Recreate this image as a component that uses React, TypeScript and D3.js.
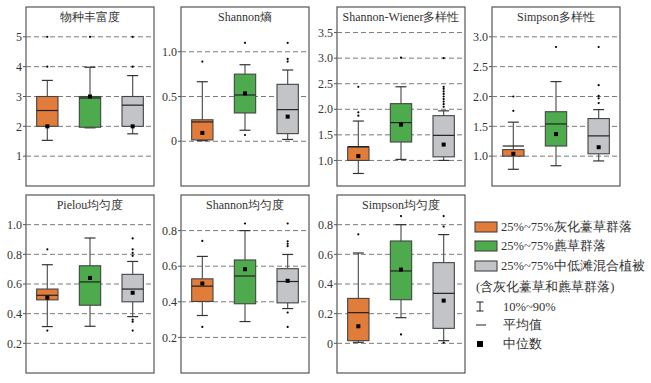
import React from 'react';
import * as d3 from 'd3';

const groups = ['灰化薹草群落', '藨草群落', '中低滩混合植被'];
const groupColors = ['#E27C3A', '#4DAB4E', '#C2C4C7'];

const panelTitles = ['物种丰富度', 'Shannon熵', 'Shannon-Wiener多样性', 'Simpson多样性', 'Pielou均匀度', 'Shannon均匀度', 'Simpson均匀度'];
const panelDomains: [number, number][] = [[0, 6], [-0.5, 1.5], [0.5, 4.0], [0.5, 3.5], [0, 1.2], [0, 1.0], [-0.2, 1.0]];
const panelTicks: number[][] = [
  [1, 2, 3, 4, 5],
  [0, 0.5, 1.0],
  [1.0, 1.5, 2.0, 2.5, 3.0, 3.5],
  [1.0, 1.5, 2.0, 2.5, 3.0],
  [0.2, 0.4, 0.6, 0.8, 1.0],
  [0.2, 0.4, 0.6, 0.8],
  [0, 0.2, 0.4, 0.6, 0.8],
];
const panelIntTicks = [true, false, false, false, false, false, false];

// each group: [p10, q1, q3, p90, lineValue(平均值), squareValue(中位数)]
const richness = [[1.53, 2, 3, 3.54, 2.53, 2.0], [1.95, 1.97, 3, 3.98, 2.95, 3.0], [1.75, 2, 3, 3.7, 2.71, 2.0]];
const richnessOut = [[4, 5], [5], [4, 5]];
const shannonH = [[0.007, 0.015, 0.24, 0.665, 0.216, 0.093], [0.123, 0.316, 0.75, 0.855, 0.517, 0.535], [0.02, 0.085, 0.636, 0.796, 0.353, 0.275]];
const shannonHOut = [[0.89], [1.1, 0.07], [1.1, 0.89, 0.92]];
const shannonW = [[0.745, 1.0, 1.26, 1.77, 1.27, 1.085], [1.02, 1.36, 2.11, 2.44, 1.74, 1.70], [1.0, 1.07, 1.875, 1.97, 1.49, 1.31]];
const shannonWOut = [[2.44, 1.94, 1.875], [3.01], [3.0, 2.44, 2.4, 2.35, 2.3, 2.25, 2.2, 2.15, 2.1, 2.05]];
const simpsonD = [[0.78, 1.0, 1.11, 1.57, 1.17, 1.04], [0.84, 1.17, 1.745, 2.25, 1.54, 1.37], [0.92, 1.04, 1.63, 1.78, 1.34, 1.15]];
const simpsonDOut = [[2.0, 1.76], [2.83], [2.83, 2.19, 2.01, 1.97, 1.89]];
const pielou = [[0.313, 0.493, 0.566, 0.73, 0.524, 0.508], [0.315, 0.457, 0.723, 0.91, 0.614, 0.641], [0.38, 0.48, 0.665, 0.752, 0.566, 0.541]];
const pielouOut = [[0.834, 0.286], [], [0.907, 0.834, 0.81, 0.79, 0.36, 0.346, 0.286]];
const shannonE = [[0.323, 0.402, 0.529, 0.655, 0.488, 0.503], [0.289, 0.389, 0.635, 0.8, 0.545, 0.583], [0.362, 0.394, 0.586, 0.666, 0.514, 0.518]];
const shannonEOut = [[0.742, 0.259], [0.84], [0.84, 0.74, 0.726, 0.713, 0.34, 0.259]];
const simpsonE = [[0.007, 0.018, 0.303, 0.609, 0.207, 0.115], [0.173, 0.294, 0.69, 0.8, 0.488, 0.497], [0.018, 0.101, 0.544, 0.733, 0.337, 0.288]];
const simpsonEOut = [[0.735], [0.858, 0.06], [0.858, 0.787, 0.005]];

const panelStats = [richness, shannonH, shannonW, simpsonD, pielou, shannonE, simpsonE];
const panelOutliers = [richnessOut, shannonHOut, shannonWOut, simpsonDOut, pielouOut, shannonEOut, simpsonEOut];

const legendLabels = ['25%~75%灰化薹草群落', '25%~75%藨草群落', '25%~75%中低滩混合植被'];
const legendNote = '(含灰化薹草和藨草群落)';
const legendWhisker = '10%~90%';
const legendMean = '平均值';
const legendMedian = '中位数';

const W = 651;
const H = 383;
const PW = 128;
const panelLefts = [26, 181, 337, 492, 26, 181, 337];
const rowTops = [7, 195];
const rowBottoms = [186, 373];
const FONT = 'Liberation Serif, DejaVu Serif Condensed, DejaVu Serif, serif';

function Panel({ idx }: { idx: number }) {
  const left = panelLefts[idx];
  const row = idx < 4 ? 0 : 1;
  const top = rowTops[row];
  const bottom = rowBottoms[row];
  const y = d3.scaleLinear().domain(panelDomains[idx]).range([bottom, top]);
  const x = d3.scaleBand<number>().domain([0, 1, 2]).range([left, left + PW]).paddingInner(0.5).paddingOuter(0.25);
  const bw = x.bandwidth();
  const fmt = (v: number) => (panelIntTicks[idx] ? String(v) : v === 0 ? '0' : d3.format('.1f')(v));
  const stats = panelStats[idx];
  const outs = panelOutliers[idx];
  return (
    <g>
      <rect x={left} y={top} width={PW} height={bottom - top} fill="#fff" stroke="#555" strokeWidth={1.2} />
      {panelTicks[idx].map((t) => (
        <g key={t}>
          <line x1={left} x2={left + PW} y1={y(t)} y2={y(t)} stroke="#7a7a7a" strokeWidth={1} strokeDasharray="5,3" />
          <line x1={left - 3} x2={left} y1={y(t)} y2={y(t)} stroke="#555" strokeWidth={1} />
          <text x={left - 4} y={y(t)} dy="0.35em" textAnchor="end" fontSize={12} fill="#333">
            {fmt(t)}
          </text>
        </g>
      ))}
      <text x={left + PW / 2} y={top + 14} textAnchor="middle" fontSize={12} fill="#333">
        {panelTitles[idx]}
      </text>
      {stats.map((s, g) => {
        const [p10, q1, q3, p90, lineV, sqV] = s;
        const x0 = x(g)!;
        const cx = x0 + bw / 2;
        const cap = 5.5;
        return (
          <g key={g}>
            <line x1={cx} x2={cx} y1={y(q3)} y2={y(p90)} stroke="#555" strokeWidth={1.2} />
            <line x1={cx} x2={cx} y1={y(q1)} y2={y(p10)} stroke="#555" strokeWidth={1.2} />
            <line x1={cx - cap} x2={cx + cap} y1={y(p90)} y2={y(p90)} stroke="#333" strokeWidth={1.2} />
            <line x1={cx - cap} x2={cx + cap} y1={y(p10)} y2={y(p10)} stroke="#333" strokeWidth={1.2} />
            <rect x={x0} y={y(q3)} width={bw} height={Math.max(0.5, y(q1) - y(q3))} fill={groupColors[g]} stroke="#444" strokeWidth={1.1} />
            <line x1={x0} x2={x0 + bw} y1={y(lineV)} y2={y(lineV)} stroke="#222" strokeWidth={1.2} />
            <rect x={cx - 2} y={y(sqV) - 2} width={4} height={4} fill="#000" />
            {outs[g].map((o, k) => (
              <circle key={k} cx={cx} cy={y(o)} r={1.1} fill="#000" />
            ))}
          </g>
        );
      })}
    </g>
  );
}

export default function App() {
  const lx = 475;
  const ly = [222, 241, 261];
  return (
    <svg width={W} height={H} style={{ position: 'absolute', left: 0, top: 0, display: 'block' }} fontFamily={FONT}>
      <rect x={0} y={0} width={W} height={H} fill="#fff" />
      {panelTitles.map((_, i) => (
        <Panel key={i} idx={i} />
      ))}
      {legendLabels.map((l, i) => (
        <g key={i}>
          <rect x={lx} y={ly[i]} width={22} height={10} fill={groupColors[i]} stroke="#444" strokeWidth={1.1} />
          <text x={501} y={ly[i] + 5} dy="0.35em" fontSize={12.5} fill="#333">{l}</text>
        </g>
      ))}
      <text x={476} y={287} dy="0.35em" fontSize={12.5} fill="#333">{legendNote}</text>
      <g stroke="#333" strokeWidth={1.1}>
        <line x1={480} x2={480} y1={302} y2={311} />
        <line x1={476.5} x2={483.5} y1={302} y2={302} />
        <line x1={476.5} x2={483.5} y1={311} y2={311} />
        <line x1={476} x2={486} y1={325} y2={325} />
      </g>
      <text x={503} y={306.5} dy="0.35em" fontSize={12.5} fill="#333">{legendWhisker}</text>
      <text x={503} y={325} dy="0.35em" fontSize={12.5} fill="#333">{legendMean}</text>
      <rect x={477} y={341} width={6} height={6} fill="#000" />
      <text x={503} y={344} dy="0.35em" fontSize={12.5} fill="#333">{legendMedian}</text>
    </svg>
  );
}
